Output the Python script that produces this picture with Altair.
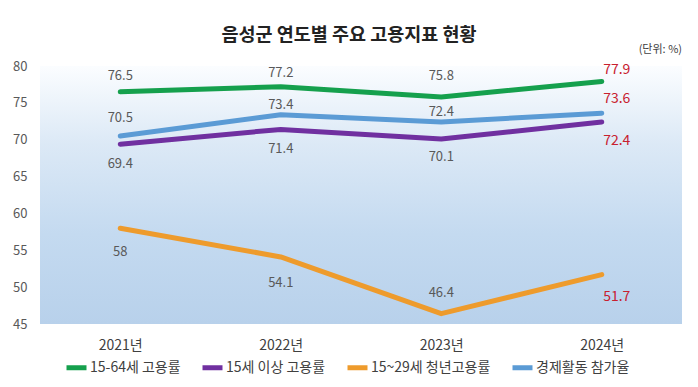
import altair as alt
import pandas as pd

years = ["2021년", "2022년", "2023년", "2024년"]
series = ["15-64세 고용률", "15세 이상 고용률", "15~29세 청년고용률", "경제활동 참가율"]
emp_15_64 = [76.5, 77.2, 75.8, 77.9]
emp_15plus = [69.4, 71.4, 70.1, 72.4]
youth = [58.0, 54.1, 46.4, 51.7]
lfpr = [70.5, 73.4, 72.4, 73.6]
y_ticks = [45, 50, 55, 60, 65, 70, 75, 80]
colors = ["#15A04D", "#7030A0", "#EE9B2C", "#5B9BD5"]

values = [emp_15_64, emp_15plus, youth, lfpr]

# label pixel offsets (style only)
label_dy = [
    [-16, -14, -21, -11],
    [20, 20, 18, 19],
    [24, 26, -21, 22],
    [-18, -10, -10, -14],
]

rows = []
for s, vals, dys in zip(series, values, label_dy):
    for i, (y, v) in enumerate(zip(years, vals)):
        rows.append({"year": y, "series": s, "value": v, "dy": dys[i],
                     "last": i == len(years) - 1})
df = pd.DataFrame(rows)

FONT = "Noto Sans CJK KR"
W, H = 642, 258

y_axis = alt.Axis(values=y_ticks, domain=False, ticks=False, tickCount=8,
                  grid=False, labelPadding=13, labelFontSize=13, labelOverlap=False,
                  labelColor="#595959", labelFont=FONT, title=None)
y_scale = alt.Scale(domain=[45, 80], nice=False, zero=False)
x_axis = alt.Axis(labelAngle=0, domain=False, ticks=False, labelPadding=14,
                  labelFontSize=14, labelColor="#404040", labelFont=FONT, title=None)

x_enc = alt.X("year:N", sort=years, title=None, axis=x_axis)
y_enc = alt.Y("value:Q", title=None, scale=y_scale, axis=y_axis)

grad = alt.LinearGradient(
    gradient="linear", x1=0, x2=0, y1=0, y2=1,
    stops=[alt.GradientStop(color="#FBFDFF", offset=0),
           alt.GradientStop(color="#DCE9F6", offset=0.3),
           alt.GradientStop(color="#C4DAF0", offset=0.65),
           alt.GradientStop(color="#B8D1EB", offset=1)])

bg = alt.Chart(pd.DataFrame({"lo": [45], "hi": [80]})).mark_rect(color=grad).encode(
    x=alt.value(0), x2=alt.value("width"),
    y=alt.Y("hi:Q", title=None, scale=y_scale, axis=y_axis),
    y2="lo:Q",
)

base = alt.Chart(df)

lines = base.mark_line(strokeWidth=5, strokeCap="round", strokeJoin="round").encode(
    x=x_enc, y=y_enc,
    color=alt.Color("series:N", sort=series,
                    scale=alt.Scale(domain=series, range=colors),
                    legend=alt.Legend(title=None, orient="none", direction="horizontal",
                                      columns=4, legendX=24, legendY=289,
                                      symbolType="stroke", symbolStrokeWidth=5,
                                      symbolSize=400, labelOffset=1, columnPadding=11,
                                      labelFontSize=14, labelColor="#404040",
                                      labelFont=FONT, padding=0)),
)

gray_labels = base.transform_filter("!datum.last").mark_text(
    fontSize=13, color="#595959", font=FONT, baseline="middle", align="center",
    dy=alt.ExprRef("datum.dy"),
).encode(
    x=x_enc, y=y_enc,
    text=alt.Text("value:Q", format=".1~f"),
)

red_labels = base.transform_filter("datum.last").mark_text(
    fontSize=14, color="#C8202F", font=FONT, baseline="middle", align="center", dx=15,
    dy=alt.ExprRef("datum.dy"),
).encode(
    x=x_enc, y=y_enc,
    text=alt.Text("value:Q", format=".1~f"),
)

unit = alt.Chart(pd.DataFrame({"t": ["(단위: %)"]})).mark_text(
    fontSize=11, color="#404040", font=FONT, align="right", baseline="middle"
).encode(x=alt.value(W), y=alt.value(-16), text="t:N")

title = alt.Chart(pd.DataFrame({"t": ["음성군 연도별 주요 고용지표 현황"]})).mark_text(
    fontSize=18.5, fontWeight="bold", color="#222222", font=FONT, align="center",
    baseline="middle"
).encode(x=alt.value(W / 2 - 12), y=alt.value(-31), text="t:N")

chart = alt.layer(bg, lines, gray_labels, red_labels, unit, title).properties(
    width=W, height=H,
    autosize=alt.AutoSizeParams(type="none"),
    padding={"left": 32, "top": 58, "right": 8, "bottom": 55},
).configure_view(stroke=None).configure_axis(labelOverlap=False).configure_axisY(
    labelOverlap=False)

chart.save("out.html", embed_options={"renderer": "svg", "actions": False})
